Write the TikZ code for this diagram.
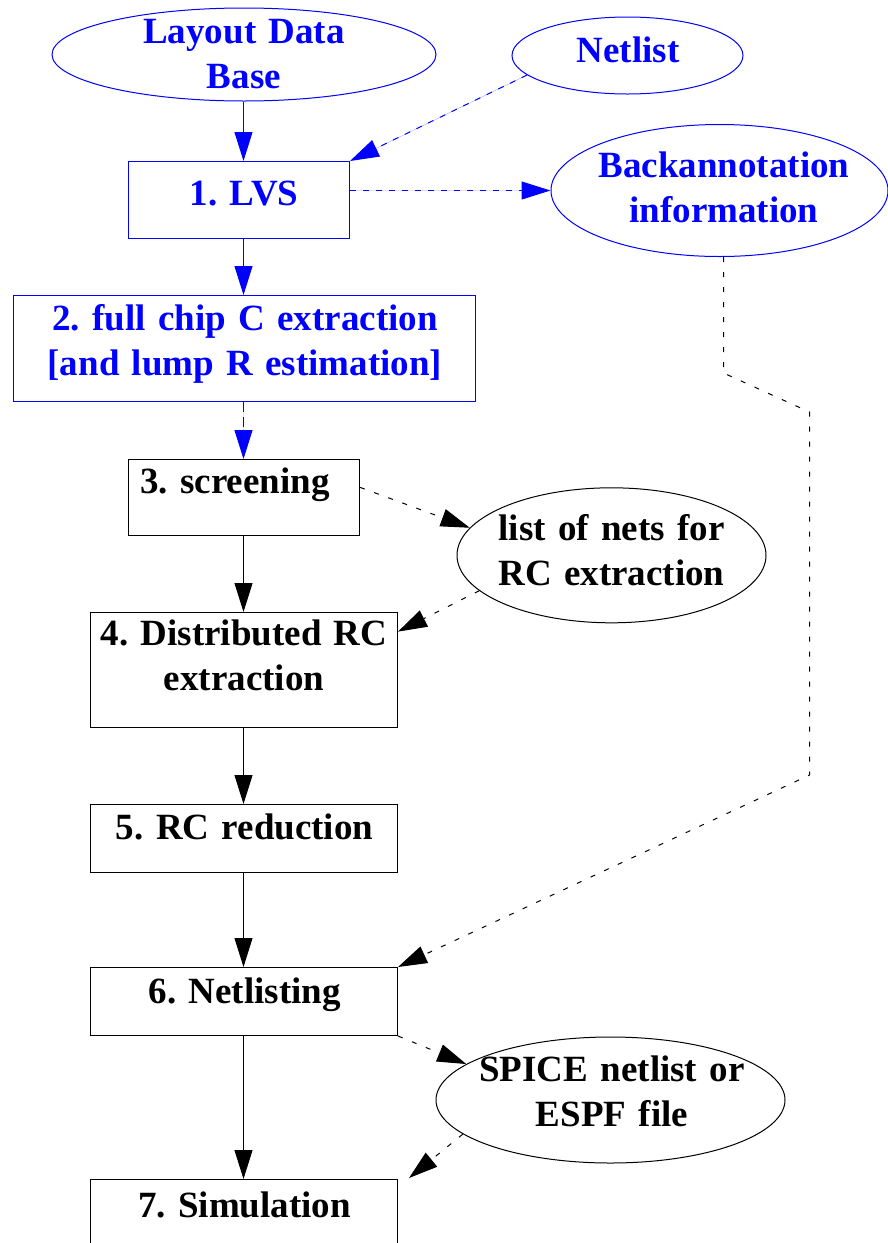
\documentclass[tikz,border=0pt]{standalone}
\usepackage{fontspec}
\setmainfont{Liberation Serif}
\usetikzlibrary{arrows.meta,calc,shapes.geometric}
\frenchspacing
\begin{document}
\begin{tikzpicture}[x=1pt,y=-1pt,line width=1pt,
    font=\fontsize{37}{45}\selectfont\bfseries]

    \clip (0,0) rectangle (888,1243);

    \tikzset{stepbox/.style={draw, rectangle, inner sep=0pt, minimum width=307pt},
             blob/.style={draw, ellipse, inner sep=0pt},
             txt/.style={inner sep=0pt, anchor=base, align=center, text width=470pt},
             flow/.style={-{Triangle[length=29pt,width=18pt]}},
             hint/.style={flow, dash pattern=on 5pt off 10pt},
             tool/.style={draw=blue, text=blue},
             toolhint/.style={flow, draw=blue, fill=blue, dash pattern=on 6pt off 7pt}}

    % tool side (blue)
    \node[blob, tool, minimum width=384pt, minimum height=93pt] (layout) at (244,54.5) {};
    \node[blob, tool, minimum width=231pt, minimum height=77pt] (netlist) at (627.5,55.5) {};
    \node[blob, tool, minimum width=337pt, minimum height=132pt] (back) at (719.5,190.5) {};
    \node[stepbox, tool, minimum width=221pt, minimum height=77pt] (lvs) at (239,200) {};
    \node[stepbox, tool, minimum width=462pt, minimum height=106pt] (chip) at (244.5,348.5) {};

    \node[txt, text=blue] (tlayout) at (244,43) {Layout Data\\Base};
    \node[txt, text=blue] (tnetlist) at (628,62) {Netlist};
    \node[txt, text=blue] (tback) at (724,177) {Backannotation\\information};
    \node[txt, text=blue] (tlvs) at (244,205) {1. LVS};
    \node[txt, text=blue] (tchip) at (245,330) {2. full chip C extraction\\{}[and lump R estimation]};

    % RC flow (black)
    \node[stepbox, minimum width=231pt, minimum height=76pt] (screen) at (244,497.5) {};
    \node[stepbox, minimum height=115pt] (dist) at (244,670) {};
    \node[stepbox, minimum height=68pt] (reduc) at (244,838.5) {};
    \node[stepbox, minimum height=68pt] (netl) at (244,1001.5) {};
    \node[stepbox, minimum height=68pt] (sim) at (244,1213.5) {};
    \node[blob, minimum width=309pt, minimum height=135pt] (nets) at (611.5,555.3) {};
    \node[blob, minimum width=349pt, minimum height=126pt] (spice) at (610.5,1100) {};

    \node[txt] (tscreen) at (235,493) {3. screening};
    \node[txt] (tdist) at (244,645) {4. Distributed RC\\extraction};
    \node[txt] (treduc) at (244.6,839) {5. RC reduction};
    \node[txt] (tnetl) at (244.6,1003.5) {6. Netlisting};
    \node[txt] (tsim) at (244.6,1217) {7. Simulation};
    \node[txt] (tnets) at (611.5,540) {list of nets for\\RC extraction};
    \node[txt] (tspice) at (612,1081) {SPICE netlist or\\ESPF file};

    \coordinate (axis) at (243.5,0);
    \coordinate (b1) at (723.5,373);
    \coordinate (b2) at (809.5,412);
    \coordinate (b3) at (809.5,775);

    \draw[flow, blue] (layout.south -| axis) -- (lvs.north -| axis);
    \draw[toolhint] (netlist.191) -- (lvs.north east);
    \draw[toolhint] (lvs.east |- back.west) -- (back.west);
    \draw[flow, blue] (lvs.south -| axis) -- (chip.north -| axis);
    \draw[toolhint, dash pattern=on 10pt off 5pt] (chip.south -| axis) -- (screen.north -| axis);

    \foreach \a/\b in {screen/dist, dist/reduc, reduc/netl, netl/sim}
        \draw[flow] (\a.south -| axis) -- (\b.north -| axis);

    \draw[hint] (screen.5) -- (nets.169);
    \draw[hint] (nets.195) -- (dist.14);
    \draw[hint] (netl.south east) -- (spice.166);
    \draw[hint] (spice.193) -- ($(sim.north east)+(11,-1)$);
    \draw[hint] (back.south -| b1) -- (b1) -- (b2) -- (b3) -- (netl.north east);

\end{tikzpicture}
\end{document}
